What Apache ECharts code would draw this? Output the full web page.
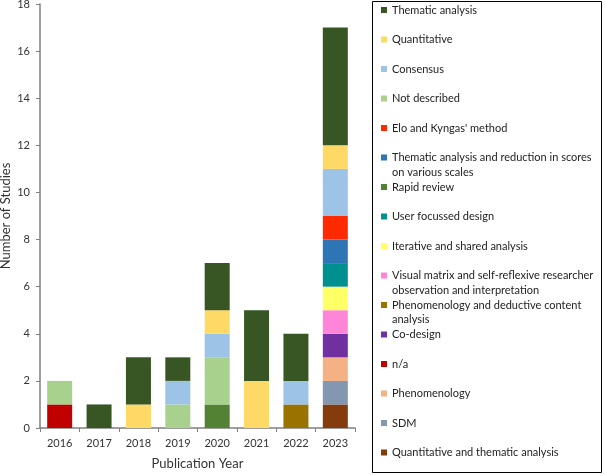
<!DOCTYPE html>
<html>
<head>
<meta charset="utf-8">
<script src="https://cdn.jsdelivr.net/npm/echarts@6/dist/echarts.min.js"></script>
<style>
  html, body { margin: 0; padding: 0; background: #fff; }
  #chart { width: 606px; height: 475px; }
</style>
</head>
<body>
<div id="chart"></div>
<script>
// publication years
var years = ['2016', '2017', '2018', '2019', '2020', '2021', '2022', '2023'];

// one array per method, stacked bottom -> top
var quantThematic   = [0, 0, 0, 0, 0, 0, 0, 1];
var sdm             = [0, 0, 0, 0, 0, 0, 0, 1];
var phenomenology   = [0, 0, 0, 0, 0, 0, 0, 1];
var notApplicable   = [1, 0, 0, 0, 0, 0, 0, 0];
var coDesign        = [0, 0, 0, 0, 0, 0, 0, 1];
var phenDeductive   = [0, 0, 0, 0, 0, 0, 1, 0];
var visualMatrix    = [0, 0, 0, 0, 0, 0, 0, 1];
var iterative       = [0, 0, 0, 0, 0, 0, 0, 1];
var userFocussed    = [0, 0, 0, 0, 0, 0, 0, 1];
var rapidReview     = [0, 0, 0, 0, 1, 0, 0, 0];
var thematicScores  = [0, 0, 0, 0, 0, 0, 0, 1];
var eloKyngas       = [0, 0, 0, 0, 0, 0, 0, 1];
var notDescribed    = [1, 0, 0, 1, 2, 0, 0, 0];
var consensus       = [0, 0, 0, 1, 1, 0, 1, 2];
var quantitative    = [0, 0, 1, 0, 1, 2, 0, 1];
var thematic        = [0, 1, 2, 1, 2, 3, 2, 5];

var stackOrder = [
  ['Quantitative and thematic analysis', quantThematic, '#843c0c'],
  ['SDM', sdm, '#8497b0'],
  ['Phenomenology', phenomenology, '#f4b183'],
  ['n/a', notApplicable, '#c00000'],
  ['Co-design', coDesign, '#7030a0'],
  ['Phenomenology and deductive content analysis', phenDeductive, '#997300'],
  ['Visual matrix and self-reflexive researcher observation and interpretation', visualMatrix, '#ff85d8'],
  ['Iterative and shared analysis', iterative, '#ffff66'],
  ['User focussed design', userFocussed, '#009090'],
  ['Rapid review', rapidReview, '#548235'],
  ['Thematic analysis and reduction in scores on various scales', thematicScores, '#2e75b6'],
  ["Elo and Kyngas' method", eloKyngas, '#ff2a00'],
  ['Not described', notDescribed, '#a9d18e'],
  ['Consensus', consensus, '#9dc3e6'],
  ['Quantitative', quantitative, '#ffd966'],
  ['Thematic analysis', thematic, '#375623']
];

// legend lists the top of the stack first
var legendNames = stackOrder.map(function (s) { return s[0]; }).reverse();

// long names wrap onto a second line that hangs below the item
var wrapped = {
  'Thematic analysis and reduction in scores on various scales': ['Thematic analysis and reduction in scores', 'on various scales'],
  'Visual matrix and self-reflexive researcher observation and interpretation': ['Visual matrix and self-reflexive researcher', 'observation and interpretation'],
  'Phenomenology and deductive content analysis': ['Phenomenology and deductive content', 'analysis']
};

var chart = echarts.init(document.getElementById('chart'));

var axisText = { color: '#333', fontFamily: 'Lato', fontSize: 11, margin: 10 };
var nameText = { color: '#333', fontFamily: 'Lato', fontSize: 13 };
var legText = { color: '#222', fontFamily: 'Lato', fontSize: 11 };

// one legend block per entry so a wrapped name doesn't push the rest down
var legends = legendNames.map(function (name, i) {
  return {
    orient: 'vertical',
    left: 381,
    top: 3 + i * 29.5,
    padding: 0,
    itemWidth: 6,
    itemHeight: 6,
    icon: 'rect',
    data: [name],
    formatter: function (n) {
      var w = wrapped[n];
      return w ? '{a|' + w[0] + '}\n{b|' + w[1] + '}' : n;
    },
    textStyle: {
      color: legText.color,
      fontFamily: legText.fontFamily,
      fontSize: legText.fontSize,
      lineHeight: 14,
      rich: {
        a: Object.assign({ lineHeight: 14 }, legText),
        b: Object.assign({ lineHeight: 0, height: 15, verticalAlign: 'top' }, legText)
      }
    }
  };
});

var option = {
  animation: false,
  grid: { left: 40, right: 251, top: 4, bottom: 47, containLabel: false, outerBoundsMode: 'none' },
  legend: legends,
  graphic: [{
    type: 'rect',
    silent: true,
    shape: { x: 372.5, y: 1.5, width: 229, height: 471 },
    style: { fill: null, stroke: '#000', lineWidth: 1 }
  }],
  xAxis: {
    type: 'category',
    data: years,
    name: 'Publication Year',
    nameLocation: 'middle',
    nameGap: 29,
    nameTextStyle: nameText,
    axisLine: { lineStyle: { color: '#808080', width: 1.5 } },
    axisTick: { show: true, length: 4, lineStyle: { color: '#808080' } },
    axisLabel: axisText
  },
  yAxis: {
    type: 'value',
    min: 0,
    max: 18,
    interval: 2,
    name: 'Number of Studies',
    nameLocation: 'middle',
    nameGap: 28,
    nameMoveOverlap: false,
    nameTextStyle: nameText,
    axisLine: { show: true, lineStyle: { color: '#808080', width: 1.5 } },
    axisTick: { show: true, length: 4, lineStyle: { color: '#808080' } },
    splitLine: { show: false },
    axisLabel: axisText
  },
  series: stackOrder.map(function (s) {
    return {
      name: s[0],
      type: 'bar',
      stack: 'total',
      barWidth: 25,
      data: s[1],
      itemStyle: { color: s[2] }
    };
  })
};

chart.setOption(option);
</script>
</body>
</html>
